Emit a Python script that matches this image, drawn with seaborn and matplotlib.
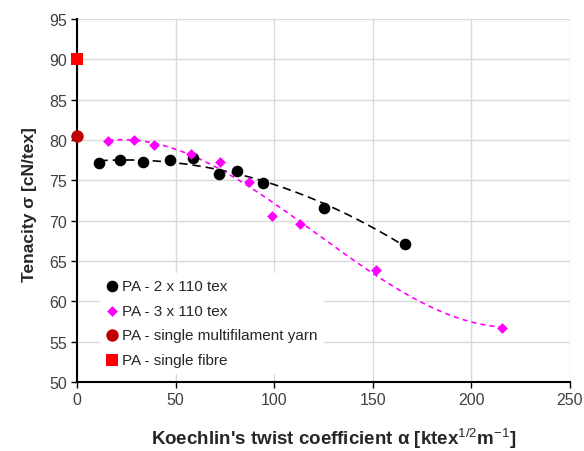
import numpy as np
import matplotlib
matplotlib.use("Agg")
import matplotlib.pyplot as plt
import seaborn as sns

# PA - 2 x 110 tex
alpha_2x = [11.3, 21.8, 33.6, 47.2, 59.0, 72.0, 81.0, 94.2, 125.3, 166.3]
sigma_2x = [77.15, 77.56, 77.24, 77.48, 77.73, 75.82, 76.12, 74.67, 71.52, 67.1]

# PA - 3 x 110 tex
alpha_3x = [15.9, 28.9, 39.2, 57.8, 72.7, 87.2, 98.9, 113.2, 151.6, 215.4]
sigma_3x = [79.8, 80.0, 79.4, 78.3, 77.2, 74.8, 70.6, 69.6, 63.85, 56.7]

# single yarn / fibre
alpha_yarn = [0]
sigma_yarn = [80.45]
alpha_fibre = [0]
sigma_fibre = [90.0]

sns.set_style("white")
plt.rcParams['font.family'] = ['Liberation Sans', 'DejaVu Sans']
plt.rcParams['mathtext.fontset'] = 'custom'
plt.rcParams['mathtext.rm'] = 'Liberation Sans'
plt.rcParams['mathtext.bf'] = 'Liberation Sans:bold'

fig, ax = plt.subplots(figsize=(5.84, 4.52), dpi=100)
fig.subplots_adjust(left=0.132, right=0.976, top=0.956, bottom=0.153)

# trend lines (polynomial fits, like Excel trendlines)
c2 = np.polyfit(alpha_2x, sigma_2x, 2)
xx2 = np.linspace(min(alpha_2x), max(alpha_2x), 200)
sns.lineplot(x=xx2, y=np.polyval(c2, xx2), color='black', lw=1.2,
             ax=ax, zorder=2)
ax.lines[-1].set_dashes([5, 3])

c3 = np.polyfit(alpha_3x, sigma_3x, 3)
xx3 = np.linspace(min(alpha_3x), max(alpha_3x), 200)
sns.lineplot(x=xx3, y=np.polyval(c3, xx3), color='#FF00FF', lw=1.2,
             ax=ax, zorder=2)
ax.lines[-1].set_dashes([3, 2.5])

sns.scatterplot(x=alpha_2x, y=sigma_2x, marker='o', s=70, color='black',
                edgecolor='black', linewidth=0, label='PA - 2 x 110 tex',
                ax=ax, zorder=4)
sns.scatterplot(x=alpha_3x, y=sigma_3x, marker='D', s=30, color='#FF00FF',
                edgecolor='#FF00FF', linewidth=0, label='PA - 3 x 110 tex',
                ax=ax, zorder=4)
sns.scatterplot(x=alpha_yarn, y=sigma_yarn, marker='o', s=80, color='#C00000',
                edgecolor='#C00000', linewidth=0,
                label='PA - single multifilament yarn', ax=ax, zorder=5,
                clip_on=False)
sns.scatterplot(x=alpha_fibre, y=sigma_fibre, marker='s', s=65, color='#FF0000',
                edgecolor='#FF0000', linewidth=0, label='PA - single fibre',
                ax=ax, zorder=5, clip_on=False)

ax.set_xlim(0, 250)
ax.set_ylim(50, 95)
ax.set_xticks(range(0, 251, 50))
ax.set_yticks(range(50, 96, 5))
ax.grid(True, color='#D9D9D9', lw=1)
ax.set_axisbelow(True)
for s in ['top', 'right']:
    ax.spines[s].set_visible(False)
for s in ['left', 'bottom']:
    ax.spines[s].set_color('black')
    ax.spines[s].set_linewidth(1.5)
ax.tick_params(axis='both', labelsize=11.5, labelcolor='#404040',
               direction='out', length=4, width=1, color='black',
               bottom=True, left=True)

ax.set_xlabel("Koechlin's twist coefficient α [ktex$^{1/2}$m$^{-1}$]",
              fontsize=13.5, fontweight='bold', va='baseline')
ax.xaxis.set_label_coords(0.52, -0.172)
ax.set_ylabel("Tenacity σ [cN/tex]", fontsize=12.5, fontweight='bold')
ax.yaxis.set_label_coords(-0.081, 0.49)

leg = ax.legend(loc='lower left', bbox_to_anchor=(0.047, 0.025), fontsize=11,
                frameon=True, facecolor='white', edgecolor='white',
                framealpha=1, handlelength=0.8, handletextpad=0.2,
                labelspacing=0.68, borderaxespad=0, fancybox=False)
leg.set_zorder(3)

fig.savefig('out.png', dpi=100)
